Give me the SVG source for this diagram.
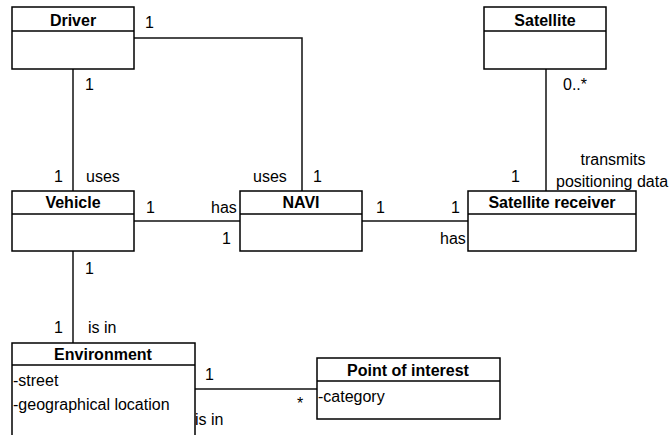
<svg xmlns="http://www.w3.org/2000/svg" width="671" height="435" viewBox="0 0 671 435">
<style>
.box{fill:#fff;stroke:#000;stroke-width:1.5}
.sep{stroke:#000;stroke-width:1.5}
.title{font-family:"Liberation Sans",Arial,sans-serif;font-size:16px;font-weight:bold;text-anchor:middle;fill:#000}
.attr{font-family:"Liberation Sans",Arial,sans-serif;font-size:16px;fill:#000}
.lbl{font-family:"Liberation Sans",Arial,sans-serif;font-size:16px;fill:#000}
.con{fill:none;stroke:#111;stroke-width:1.5}
</style>
<rect width="671" height="435" fill="#fff"/>
<g id="connectors">
<polyline class="con" points="134,38 302,38 302,191"/>
<line class="con" x1="73" y1="69" x2="73" y2="191"/>
<line class="con" x1="134" y1="221" x2="240" y2="221"/>
<line class="con" x1="362" y1="221" x2="468" y2="221"/>
<line class="con" x1="546" y1="69" x2="546" y2="191"/>
<line class="con" x1="73" y1="251" x2="73" y2="343"/>
<line class="con" x1="195" y1="389" x2="317" y2="389"/>
<text class="lbl" x="145" y="28">1</text>
<text class="lbl" x="85" y="90">1</text>
<text class="lbl" x="54" y="182">1</text>
<text class="lbl" x="86" y="182">uses</text>
<text class="lbl" x="253" y="182">uses</text>
<text class="lbl" x="313" y="182">1</text>
<text class="lbl" x="146" y="213">1</text>
<text class="lbl" x="211" y="213">has</text>
<text class="lbl" x="222" y="244">1</text>
<text class="lbl" x="85" y="274">1</text>
<text class="lbl" x="54" y="333">1</text>
<text class="lbl" x="88" y="333">is in</text>
<text class="lbl" x="563" y="90">0..*</text>
<text class="lbl" x="511" y="182">1</text>
<text class="lbl" x="613" y="165" text-anchor="middle">transmits</text>
<text class="lbl" x="556" y="187">positioning data</text>
<text class="lbl" x="376" y="213">1</text>
<text class="lbl" x="451" y="213">1</text>
<text class="lbl" x="440" y="244">has</text>
<text class="lbl" x="205" y="380">1</text>
<text class="lbl" x="297" y="409">*</text>
<text class="lbl" x="195" y="425">is in</text>
</g>
<g id="driver">
<rect class="box" x="12" y="7" width="122" height="62"/>
<line class="sep" x1="12" y1="31" x2="134" y2="31"/>
<text class="title" x="73" y="26">Driver</text>
</g>
<g id="satellite">
<rect class="box" x="484" y="7" width="122" height="62"/>
<line class="sep" x1="484" y1="31" x2="606" y2="31"/>
<text class="title" x="545" y="26">Satellite</text>
</g>
<g id="vehicle">
<rect class="box" x="12" y="191" width="122" height="60"/>
<line class="sep" x1="12" y1="214" x2="134" y2="214"/>
<text class="title" x="73" y="208">Vehicle</text>
</g>
<g id="navi">
<rect class="box" x="240" y="191" width="122" height="60"/>
<line class="sep" x1="240" y1="214" x2="362" y2="214"/>
<text class="title" x="301" y="208">NAVI</text>
</g>
<g id="satellite-receiver">
<rect class="box" x="468" y="191" width="168" height="60"/>
<line class="sep" x1="468" y1="214" x2="636" y2="214"/>
<text class="title" x="552" y="208">Satellite receiver</text>
</g>
<g id="environment">
<rect class="box" x="12" y="343" width="183" height="100"/>
<line class="sep" x1="12" y1="365" x2="195" y2="365"/>
<text class="title" x="103" y="360">Environment</text>
<text class="attr" x="13" y="386">-street</text>
<text class="attr" x="13" y="410">-geographical location</text>
</g>
<g id="point-of-interest">
<rect class="box" x="317" y="358" width="183" height="61"/>
<line class="sep" x1="317" y1="381" x2="500" y2="381"/>
<text class="title" x="408" y="376">Point of interest</text>
<text class="attr" x="318" y="402">-category</text>
</g>
</svg>
